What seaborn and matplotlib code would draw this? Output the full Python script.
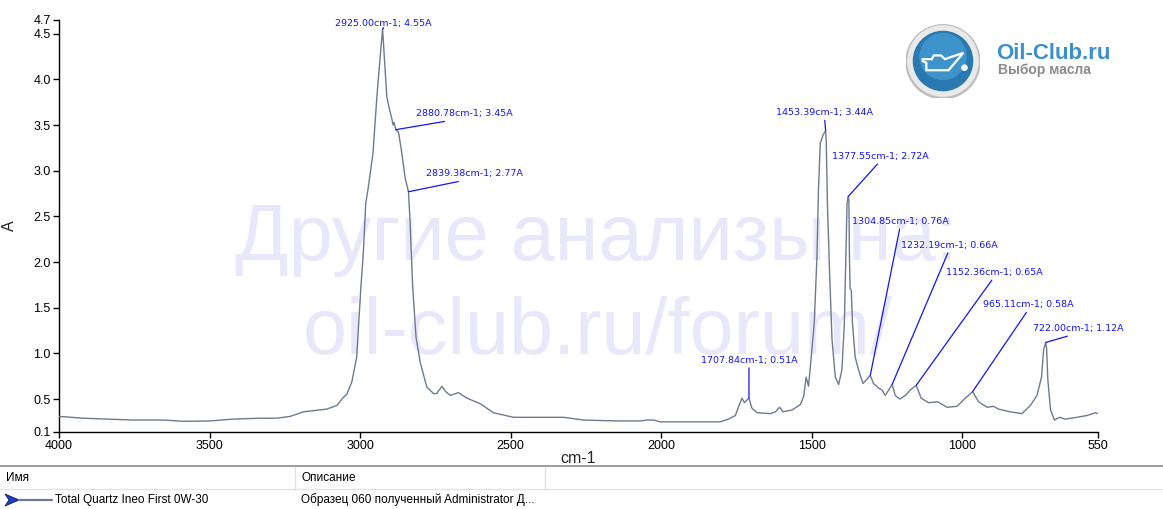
import numpy as np
import pandas as pd
import matplotlib
matplotlib.use("Agg")
import matplotlib.pyplot as plt
import seaborn as sns
from matplotlib.patches import Circle, Polygon
from matplotlib.lines import Line2D

# ---------------- data ----------------
wavenumber = [4000, 3920, 3754, 3650, 3588, 3500, 3422, 3332, 3276, 3232, 3188, 3110,
              3077, 3055, 3044, 3027, 3011, 2997, 2989, 2981, 2972, 2957, 2944, 2933,
              2928, 2925, 2920, 2911, 2902, 2895, 2890, 2887, 2881, 2872, 2861, 2850,
              2839, 2834, 2825, 2814, 2800, 2778, 2756, 2745, 2728, 2715, 2700, 2673,
              2645, 2601, 2557, 2490, 2412, 2324, 2258, 2147, 2069, 2047, 2025, 2003,
              1900, 1804, 1776, 1753, 1742, 1731, 1723, 1708, 1698, 1681, 1637, 1620,
              1606, 1595, 1565, 1537, 1526, 1518, 1510, 1504, 1491, 1482, 1477, 1471,
              1462, 1453, 1451, 1447, 1440, 1432, 1421, 1410, 1399, 1391, 1386, 1382,
              1378, 1376, 1374, 1372, 1368, 1364, 1355, 1344, 1329, 1318, 1305, 1294,
              1277, 1266, 1255, 1232, 1222, 1207, 1188, 1172, 1152, 1136, 1111, 1081,
              1050, 1017, 989, 965, 945, 917, 895, 879, 840, 801, 773, 751, 736, 729,
              722, 719, 715, 706, 693, 676, 657, 618, 585, 557, 550]
absorbance = [0.31, 0.29, 0.27, 0.27, 0.256, 0.26, 0.28, 0.29, 0.29, 0.31, 0.36, 0.39,
              0.43, 0.52, 0.55, 0.69, 0.96, 1.73, 2.10, 2.64, 2.83, 3.19, 3.81, 4.25,
              4.43, 4.55, 4.29, 3.81, 3.67, 3.58, 3.50, 3.53, 3.45, 3.42, 3.19, 2.92,
              2.77, 2.46, 1.73, 1.18, 0.90, 0.63, 0.56, 0.56, 0.64, 0.58, 0.54, 0.57,
              0.51, 0.45, 0.35, 0.30, 0.30, 0.30, 0.27, 0.26, 0.26, 0.27, 0.27, 0.25,
              0.25, 0.25, 0.28, 0.32, 0.42, 0.51, 0.46, 0.51, 0.40, 0.35, 0.34, 0.36,
              0.41, 0.36, 0.38, 0.44, 0.53, 0.74, 0.64, 0.85, 1.33, 2.06, 2.79, 3.30,
              3.39, 3.44, 3.30, 2.61, 1.88, 1.15, 0.74, 0.66, 0.82, 1.33, 2.06, 2.64,
              2.72, 2.68, 2.06, 1.71, 1.69, 1.33, 0.96, 0.82, 0.67, 0.71, 0.76, 0.67,
              0.62, 0.60, 0.54, 0.66, 0.54, 0.50, 0.54, 0.60, 0.65, 0.51, 0.46, 0.47,
              0.41, 0.42, 0.51, 0.58, 0.47, 0.41, 0.42, 0.39, 0.36, 0.34, 0.43, 0.54,
              0.74, 1.04, 1.12, 1.05, 0.71, 0.38, 0.27, 0.30, 0.28, 0.30, 0.32, 0.35, 0.34]

peak_wn = [2925.00, 2880.78, 2839.38, 1707.84, 1453.39, 1377.55, 1304.85, 1232.19,
           1152.36, 965.11, 722.00]
peak_abs = [4.55, 3.45, 2.77, 0.51, 3.44, 2.72, 0.76, 0.66, 0.65, 0.58, 1.12]
peak_labels = ["2925.00cm-1; 4.55A", "2880.78cm-1; 3.45A", "2839.38cm-1; 2.77A",
               "1707.84cm-1; 0.51A", "1453.39cm-1; 3.44A", "1377.55cm-1; 2.72A",
               "1304.85cm-1; 0.76A", "1232.19cm-1; 0.66A", "1152.36cm-1; 0.65A",
               "965.11cm-1; 0.58A", "722.00cm-1; 1.12A"]
# label placement (pixel offsets of label centre from the peak)
label_offsets = [(1, 6), (68, 16), (66, 18), (0, 38), (-1, 18), (32, 40),
                 (30, 154), (57, 139), (78, 113), (56, 87), (33, 14)]

x_ticks = [4000, 3500, 3000, 2500, 2000, 1500, 1000, 550]
y_low, y_high = 0.139, 4.651
y_ticks = [y_low, 0.5, 1.0, 1.5, 2.0, 2.5, 3.0, 3.5, 4.0, 4.5, y_high]
y_tick_labels = ["0.1", "0.5", "1.0", "1.5", "2.0", "2.5", "3.0", "3.5", "4.0", "4.5", "4.7"]

sample_name = "Total Quartz Ineo First 0W-30"
sample_desc = "Образец 060 полученный Administrator Д..."
col_headers = ["Имя", "Описание"]
watermark = ["Другие анализы на:", "oil-club.ru/forum/"]

# ---------------- figure ----------------
sns.set_style("white")
plt.rcParams["font.family"] = ["Liberation Sans", "DejaVu Sans"]

W, H = 1163, 509
fig = plt.figure(figsize=(W / 100, H / 100), dpi=100)
fig.patch.set_facecolor("white")


def fx(px):
    return px / W


def fy(py):
    return 1 - py / H


ax = fig.add_axes([fx(59), fy(432), (1097.5 - 59) / W, (432 - 20) / H])
df = pd.DataFrame({"cm-1": wavenumber, "A": absorbance})
line_color = "#6f7b8b"
sns.lineplot(data=df, x="cm-1", y="A", ax=ax, sort=False, color=line_color,
             linewidth=1.0, zorder=3)

ax.set_xlim(4000, 550)
ax.set_ylim(y_low, y_high)
ax.set_xticks(x_ticks)
ax.set_xticklabels([str(t) for t in x_ticks])
ax.set_yticks(y_ticks)
ax.set_yticklabels(y_tick_labels)
for s in ["top", "right"]:
    ax.spines[s].set_visible(False)
for s in ["left", "bottom"]:
    ax.spines[s].set_color("black")
    ax.spines[s].set_linewidth(1.0)
ax.tick_params(axis="both", direction="out", length=4, width=1, labelsize=9,
               pad=2, colors="black", left=True, bottom=True)
ax.set_xlabel("cm-1", fontsize=11.5)
ax.set_ylabel("A", fontsize=11.5)
ax.xaxis.set_label_coords((578 - 59) / 1038.5, -(451 - 432) / 412)
ax.yaxis.set_label_coords((17 - 59) / 1038.5, 0.5)
ax.grid(False)

# watermark behind the spectrum
ax.text(fx(596), fy(260), watermark[0], transform=fig.transFigure, fontsize=57,
        color="#e8e8fa", ha="center", va="baseline", zorder=0)
ax.text(fx(598), fy(354), watermark[1], transform=fig.transFigure, fontsize=57,
        color="#e8e8fa", ha="center", va="baseline", zorder=0)

# peak annotations
for wn, a, lab, (dx, dy) in zip(peak_wn, peak_abs, peak_labels, label_offsets):
    ax.annotate(lab, xy=(wn, a), xytext=(dx, dy), textcoords="offset pixels",
                ha="center", va="center", fontsize=6.8, color="#1515f0",
                family="DejaVu Sans", zorder=4, annotation_clip=False,
                arrowprops=dict(arrowstyle="-", color="#1515f0", lw=0.9,
                                shrinkA=0, shrinkB=0, relpos=(0.5, 0.0)))

# ---------------- logo ----------------
lax = fig.add_axes([fx(943 - 37), fy(61 + 37), 74 / W, 74 / H])
lax.set_xlim(-1, 1)
lax.set_ylim(-1, 1)
lax.set_aspect("equal")
lax.axis("off")
lax.add_patch(Circle((0, -0.02), 1.0, color="#bdbdbd"))
lax.add_patch(Circle((0, 0), 0.95, color="#e9e9e9"))
lax.add_patch(Circle((0, 0), 0.80, color="#2a78b0"))
lax.add_patch(Circle((0, 0.12), 0.62, color="#3f93cb"))
can = [(-0.55, 0.05), (-0.3, 0.05), (-0.25, 0.15), (-0.05, 0.15), (0.05, 0.05),
       (0.55, 0.22), (0.15, -0.25), (-0.45, -0.25), (-0.45, -0.05), (-0.55, 0.0)]
lax.add_patch(Polygon(can, closed=True, fill=False, edgecolor="white", lw=1.6))
lax.add_patch(Circle((0.58, -0.18), 0.07, color="white"))
fig.text(fx(996), fy(53), "Oil-Club.ru", fontsize=16, fontweight="bold",
         color="#3b8fcb", ha="left", va="center")
fig.text(fx(998), fy(70), "Выбор масла", fontsize=10, fontweight="bold",
         color="#8a8a8a", ha="left", va="center")

# ---------------- legend table ----------------
fig.add_artist(Line2D([0, 1], [fy(466), fy(466)], color="#8c8c8c", lw=1.2))
fig.add_artist(Line2D([0, 1], [fy(489), fy(489)], color="#e4e4e4", lw=1.0))
for sx in (295, 545):
    fig.add_artist(Line2D([fx(sx), fx(sx)], [fy(467), fy(489)], color="#e0e0e0", lw=1.0))
fig.text(fx(6), fy(478), col_headers[0], fontsize=8.5, color="black", va="center")
fig.text(fx(301), fy(478), col_headers[1], fontsize=8.5, color="black", va="center")
arrow = [(fx(5), fy(494)), (fx(19), fy(500)), (fx(5), fy(506)), (fx(9), fy(500))]
fig.add_artist(Polygon(arrow, closed=True, facecolor="#1c3fbf", edgecolor="#0a1a70",
                       lw=0.6, transform=fig.transFigure))
fig.add_artist(Line2D([fx(20), fx(52)], [fy(500), fy(500)], color=line_color, lw=1.6))
fig.text(fx(55), fy(500), sample_name, fontsize=8.5, color="black", va="center")
fig.text(fx(301), fy(500), sample_desc, fontsize=8.5, color="black", va="center")

fig.savefig("out.png", dpi=100, facecolor="white")
